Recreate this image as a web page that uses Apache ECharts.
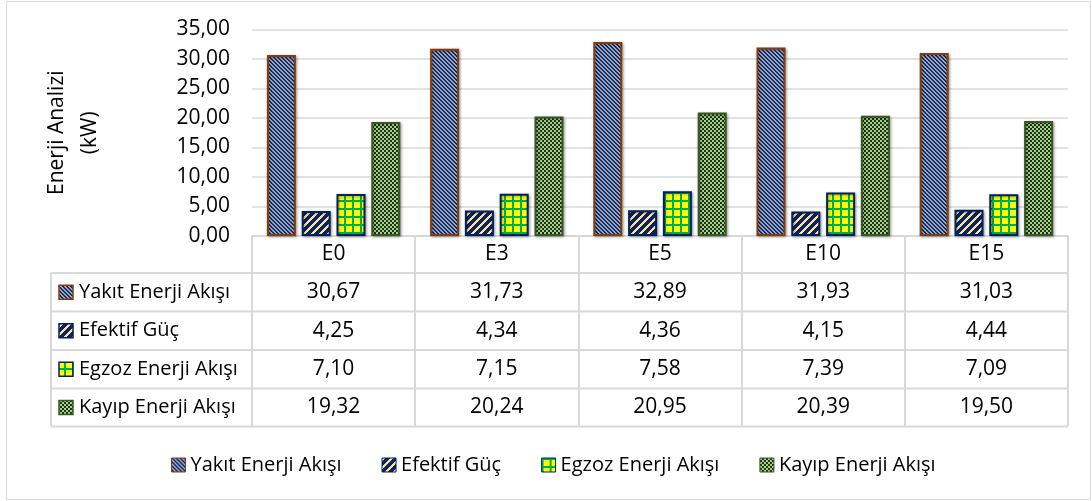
<!DOCTYPE html>
<html>
<head>
<meta charset="utf-8">
<script src="https://cdn.jsdelivr.net/npm/echarts@6/dist/echarts.min.js"></script>
<style>
  html, body { margin: 0; padding: 0; background: #fff; }
  #chart { width: 1092px; height: 501px; }
</style>
</head>
<body>
<div id="chart"></div>
<script>
// Fuel blends and the energy balance per blend (kW)
const categories = ['E0', 'E3', 'E5', 'E10', 'E15'];
const seriesNames = ['Yakıt Enerji Akışı', 'Efektif Güç', 'Egzoz Enerji Akışı', 'Kayıp Enerji Akışı'];
const yakitEnerji = [30.67, 31.73, 32.89, 31.93, 31.03];
const efektifGuc = [4.25, 4.34, 4.36, 4.15, 4.44];
const egzozEnerji = [7.10, 7.15, 7.58, 7.39, 7.09];
const kayipEnerji = [19.32, 20.24, 20.95, 20.39, 19.50];
const yMin = 0, yMax = 35, yStep = 5;

const FONT = 'Open Sans';
const FS = 21;       // numbers and axis text
const FS_NAME = 20;  // series names
const fmt = v => v.toFixed(2).replace('.', ',');

// Small repeating bitmap tiles used as hatch fills
function tile(size, paint) {
  const c = document.createElement('canvas');
  c.width = c.height = size;
  const ctx = c.getContext('2d');
  for (let y = 0; y < size; y++) {
    for (let x = 0; x < size; x++) {
      ctx.fillStyle = paint(x, y);
      ctx.fillRect(x, y, 1, 1);
    }
  }
  return { image: c, repeat: 'repeat' };
}
const mod = (a, n) => ((a % n) + n) % n;

const fills = [
  // downward diagonal stripes
  tile(4, (x, y) => mod(x - y, 4) < 2 ? '#1F2B48' : '#8FAADC'),
  // wide upward diagonal stripes
  tile(8, (x, y) => mod(x + y, 8) < 3 ? '#FFE699' : '#0E2460'),
  // yellow with green grid
  tile(8, (x, y) => (x < 2 || y < 2) ? '#00B050' : '#FFFF00'),
  // small checkerboard
  tile(4, (x, y) => ((Math.floor(x / 2) + Math.floor(y / 2)) % 2) ? '#1D3316' : '#A9D18E')
];
const borders = ['#843C0C', '#002060', '#002060', '#385723'];
const values = [yakitEnerji, efektifGuc, egzozEnerji, kayipEnerji];

const gridLeft = 252, gridRight = 24, gridTop = 29.5, gridBottomY = 236;
const rowLines = [273, 311.5, 350, 388.5, 426.5];
const tableLeft = 51, tableRight = 1068;

const chart = echarts.init(document.getElementById('chart'), null, { renderer: 'canvas' });

const option = {
  animation: false,
  backgroundColor: '#fff',
  textStyle: { fontFamily: FONT },
  grid: { left: gridLeft, right: gridRight, top: gridTop, bottom: 501 - gridBottomY },
  legend: {
    left: 166,
    top: 450,
    itemWidth: 14,
    itemHeight: 14,
    itemGap: 40,
    icon: 'rect',
    textStyle: { fontFamily: FONT, fontSize: FS_NAME, color: '#000' },
    itemStyle: { borderWidth: 1 },
    data: seriesNames
  },
  xAxis: {
    type: 'category',
    data: categories,
    axisLine: { lineStyle: { color: '#D9D9D9', width: 2 } },
    axisTick: { show: true, length: 190.5, inside: false, lineStyle: { color: '#D9D9D9', width: 2 } },
    axisLabel: { margin: 18, verticalAlign: 'middle', fontFamily: FONT, fontSize: FS, color: '#000' }
  },
  yAxis: {
    type: 'value',
    min: yMin,
    max: yMax,
    interval: yStep,
    name: 'Enerji Analizi\n(kW)',
    nameLocation: 'middle',
    nameRotate: 90,
    nameGap: 145,
    nameTextStyle: { fontFamily: FONT, fontSize: FS, color: '#000', lineHeight: 33 },
    axisLine: { show: false },
    axisTick: { show: false },
    axisLabel: { margin: 22, fontFamily: FONT, fontSize: FS, color: '#000', formatter: v => fmt(v) },
    splitLine: { lineStyle: { color: '#D9D9D9', width: 1.5 } }
  },
  series: seriesNames.map((name, i) => ({
    name,
    type: 'bar',
    data: values[i],
    barWidth: 29,
    barGap: '20%',
    itemStyle: {
      color: fills[i],
      borderColor: borders[i],
      borderWidth: 2,
      shadowColor: 'rgba(0,0,0,0.35)',
      shadowBlur: 3,
      shadowOffsetX: 1,
      shadowOffsetY: 1
    },
    emphasis: { disabled: true }
  }))
};
chart.setOption(option);

// Data table under the plot: row rules, series keys and values
const graphics = [];
graphics.push({
  type: 'rect',
  shape: { x: 6.5, y: 1.5, width: 1084, height: 498 },
  style: { fill: 'none', stroke: '#D9D9D9', lineWidth: 1 },
  silent: true
});
rowLines.forEach(y => {
  graphics.push({
    type: 'line',
    shape: { x1: tableLeft, y1: y, x2: tableRight, y2: y },
    style: { stroke: '#D9D9D9', lineWidth: 2 },
    silent: true
  });
});
graphics.push({
  type: 'line',
  shape: { x1: tableLeft, y1: rowLines[0], x2: tableLeft, y2: rowLines[rowLines.length - 1] },
  style: { stroke: '#D9D9D9', lineWidth: 2 },
  silent: true
});
seriesNames.forEach((name, r) => {
  const cy = (rowLines[r] + rowLines[r + 1]) / 2;
  graphics.push({
    type: 'rect',
    shape: { x: 59, y: cy - 7, width: 14, height: 14 },
    style: { fill: fills[r], stroke: borders[r], lineWidth: 1.5 },
    silent: true
  });
  graphics.push({
    type: 'text',
    x: 79,
    y: cy,
    style: { text: name, fontFamily: FONT, fontSize: FS_NAME, fill: '#000', verticalAlign: 'middle', align: 'left' },
    silent: true
  });
  categories.forEach((cat, c) => {
    const px = chart.convertToPixel({ xAxisIndex: 0 }, cat);
    graphics.push({
      type: 'text',
      x: px,
      y: cy,
      style: { text: fmt(values[r][c]), fontFamily: FONT, fontSize: FS, fill: '#000', verticalAlign: 'middle', align: 'center' },
      silent: true
    });
  });
});
chart.setOption({ graphic: graphics });
</script>
</body>
</html>
